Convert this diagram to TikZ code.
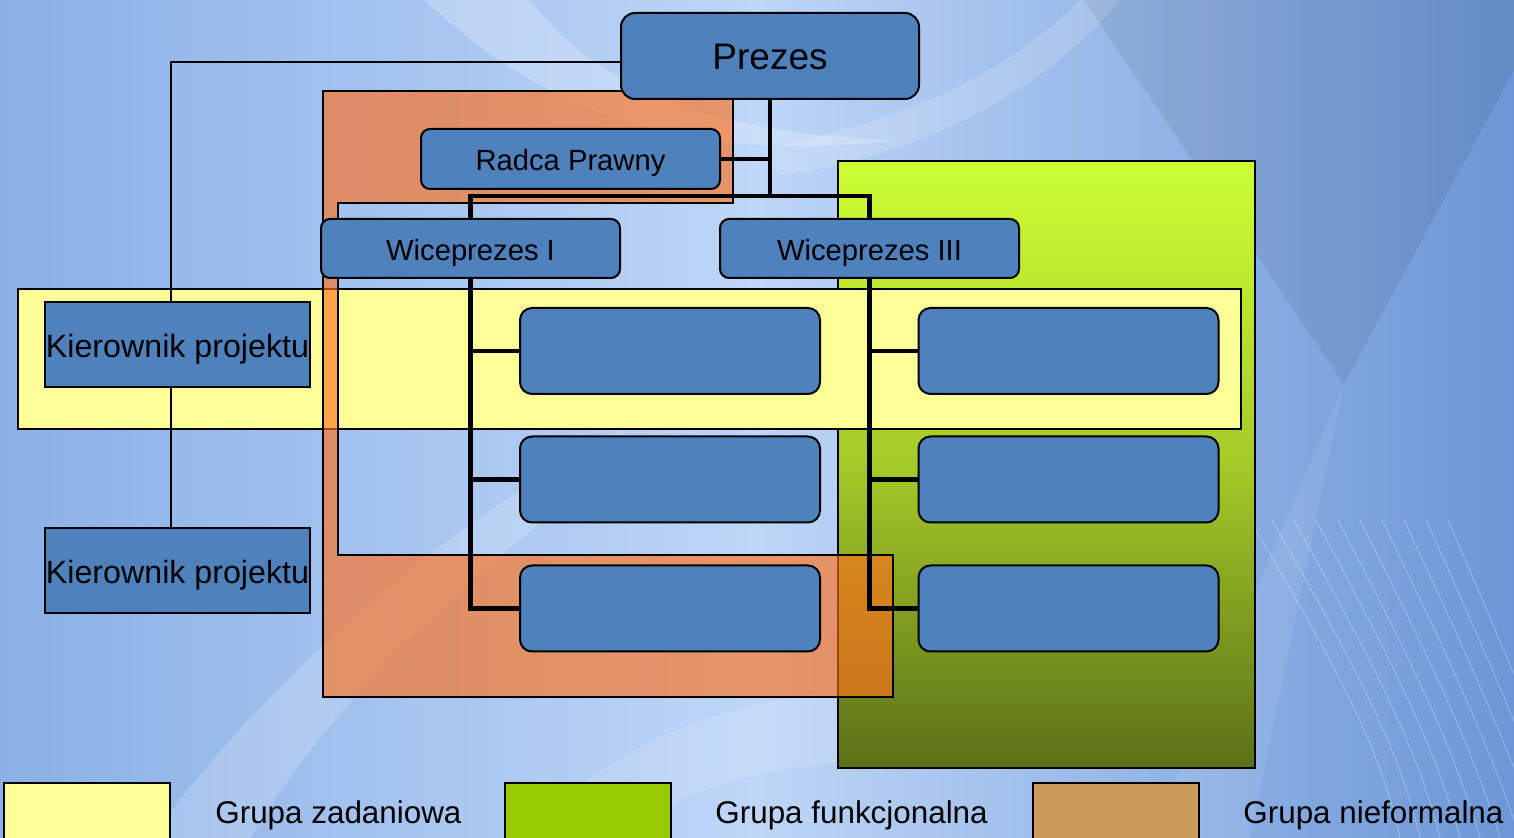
\documentclass[tikz,border=0pt]{standalone}
\usepackage{fontspec}
\setmainfont{Liberation Sans}
\usetikzlibrary{positioning,calc}

\definecolor{boxblue}{RGB}{79,129,189}
\definecolor{taskyellow}{RGB}{255,255,153}
\definecolor{funclime}{RGB}{204,255,51}
\definecolor{funcmid}{RGB}{164,202,40}
\definecolor{funcolive}{RGB}{92,112,24}
\definecolor{informal}{RGB}{255,112,27}
\definecolor{legendgreen}{RGB}{153,204,0}
\definecolor{legendtan}{RGB}{204,157,90}
\definecolor{bgleft}{RGB}{138,176,230}
\definecolor{bgmid}{RGB}{190,214,247}
\definecolor{bgright}{RGB}{108,150,214}

\begin{document}
\begin{tikzpicture}[x=0.5pt,y=-0.5pt,
  unit/.style={draw=black,line width=1pt,fill=boxblue,rounded corners=6pt,
    inner sep=0pt,text height=11.8pt,text depth=0pt,font=\fontsize{14.6}{17}\selectfont},
  pm/.style={draw=black,line width=1pt,fill=boxblue,inner sep=0pt,
    minimum width=132.5pt,minimum height=42.5pt,
    text height=13.4pt,text depth=0pt,font=\fontsize{16.1}{19}\selectfont},
  bus/.style={line width=2.2pt},
  link/.style={line width=0.9pt},
  group/.style={draw=black,line width=0.8pt},
  legsq/.style={draw=black,line width=1pt,inner sep=0pt,minimum width=83pt,minimum height=40pt},
  legtxt/.style={anchor=west,inner sep=0pt,text height=11.2pt,text depth=0pt,
    font=\fontsize{15.7}{18}\selectfont}]
\clip (0,0) rectangle (1514,838);

% tlo
\shade[left color=bgleft,right color=bgright,middle color=bgmid] (0,0) rectangle (1514,838);
\fill[white,opacity=.22] (425,0) .. controls (540,110) and (680,165) .. (900,140)
  .. controls (700,135) and (590,80) .. (530,0) -- cycle;
\fill[white,opacity=.15] (760,150) .. controls (900,120) and (1000,80) .. (1080,0)
  -- (1120,0) .. controls (1040,100) and (900,160) .. (780,175) -- cycle;
\fill[black,opacity=.07] (1084,0) -- (1344,384) -- (1514,70) -- (1514,0) -- cycle;
\fill[white,opacity=.08] (1344,384) -- (1150,838) -- (1250,838) -- cycle;
\fill[white,opacity=.18] (150,838) .. controls (300,640) and (460,520) .. (620,430)
  -- (640,450) .. controls (480,560) and (340,690) .. (250,838) -- cycle;
\fill[white,opacity=.12] (520,838) .. controls (620,740) and (720,700) .. (860,690)
  -- (860,760) .. controls (740,770) and (660,800) .. (620,838) -- cycle;
\foreach \k in {0,...,9}
  \draw[white,opacity=.3,line width=.4pt]
    (1250+22*\k,520) .. controls (1320+20*\k,640) and (1380+18*\k,740) .. (1400+20*\k,838);

% grupy
\shade[top color=funclime,bottom color=funcolive,middle color=funcmid]
  (838,161) rectangle (1255,768);
\draw[group] (838,161) rectangle (1255,768);
\draw[group,fill=taskyellow] (18,289) rectangle (1241,429);
\draw[group,fill=informal,fill opacity=.64]
  (323,91) -- (733,91) -- (733,203) -- (338,203) -- (338,555)
  -- (893,555) -- (893,697) -- (323,697) -- cycle;

% wezly
\node[unit,minimum width=149pt,minimum height=43pt,rounded corners=7pt,
  text height=13.6pt,font=\fontsize{18.5}{22}\selectfont] (prezes) at (770,56) {Prezes};
\node[unit,minimum width=149.5pt,minimum height=30pt,rounded corners=4.5pt] (radca) at (570.5,159) {Radca Prawny};
\node[unit,minimum width=149.5pt,minimum height=29.5pt,rounded corners=4.5pt] (wp1) at (470.5,248.5) {Wiceprezes I};
\node[unit,minimum width=149.5pt,minimum height=29.5pt,rounded corners=4.5pt] (wp3) at (869.5,248.5) {Wiceprezes III};
\foreach \r/\y in {1/351,2/479.5,3/608.5} {
  \node[unit,minimum width=150pt,minimum height=43pt] (l\r) at (670,\y) {};
  \node[unit,minimum width=150pt,minimum height=43pt] (r\r) at (1068.5,\y) {};
}
\node[pm] (kp1) at (177.5,344.5) {Kierownik projektu};
\node[pm] (kp2) at (177.5,570.5) {Kierownik projektu};
\coordinate (bus) at (770,196);

% polaczenia
\draw[link] ([yshift=-3pt]prezes.west) -| ([xshift=-3.25pt]kp1.north);
\draw[link] ([xshift=-3.25pt]kp1.south) -- ([xshift=-3.25pt]kp2.north);
\draw[bus] (prezes.south) -- (bus);
\draw[bus] (radca.east) -- (radca.east -| bus);
\draw[bus] (wp1.north) |- (wp3.north |- bus) -- (wp3.north);
\draw[bus] (wp1.south) |- (l3.west);
\draw[bus] (wp3.south) |- (r3.west);
\foreach \r in {1,2} {
  \draw[bus] (wp1.south |- l\r.west) -- (l\r.west);
  \draw[bus] (wp3.south |- r\r.west) -- (r\r.west);
}

% legenda
\node[legsq,fill=taskyellow] (lz) at (87,823) {};
\node[legsq,fill=legendgreen] (lf) at (588,823) {};
\node[legsq,fill=legendtan] (ln) at (1116,823) {};
\node[legtxt] (lzt) at (215,812) {Grupa zadaniowa};
\node[legtxt] (lft) at (715,812) {Grupa funkcjonalna};
\node[legtxt] (lnt) at (1243,812) {Grupa nieformalna};
\end{tikzpicture}
\end{document}
